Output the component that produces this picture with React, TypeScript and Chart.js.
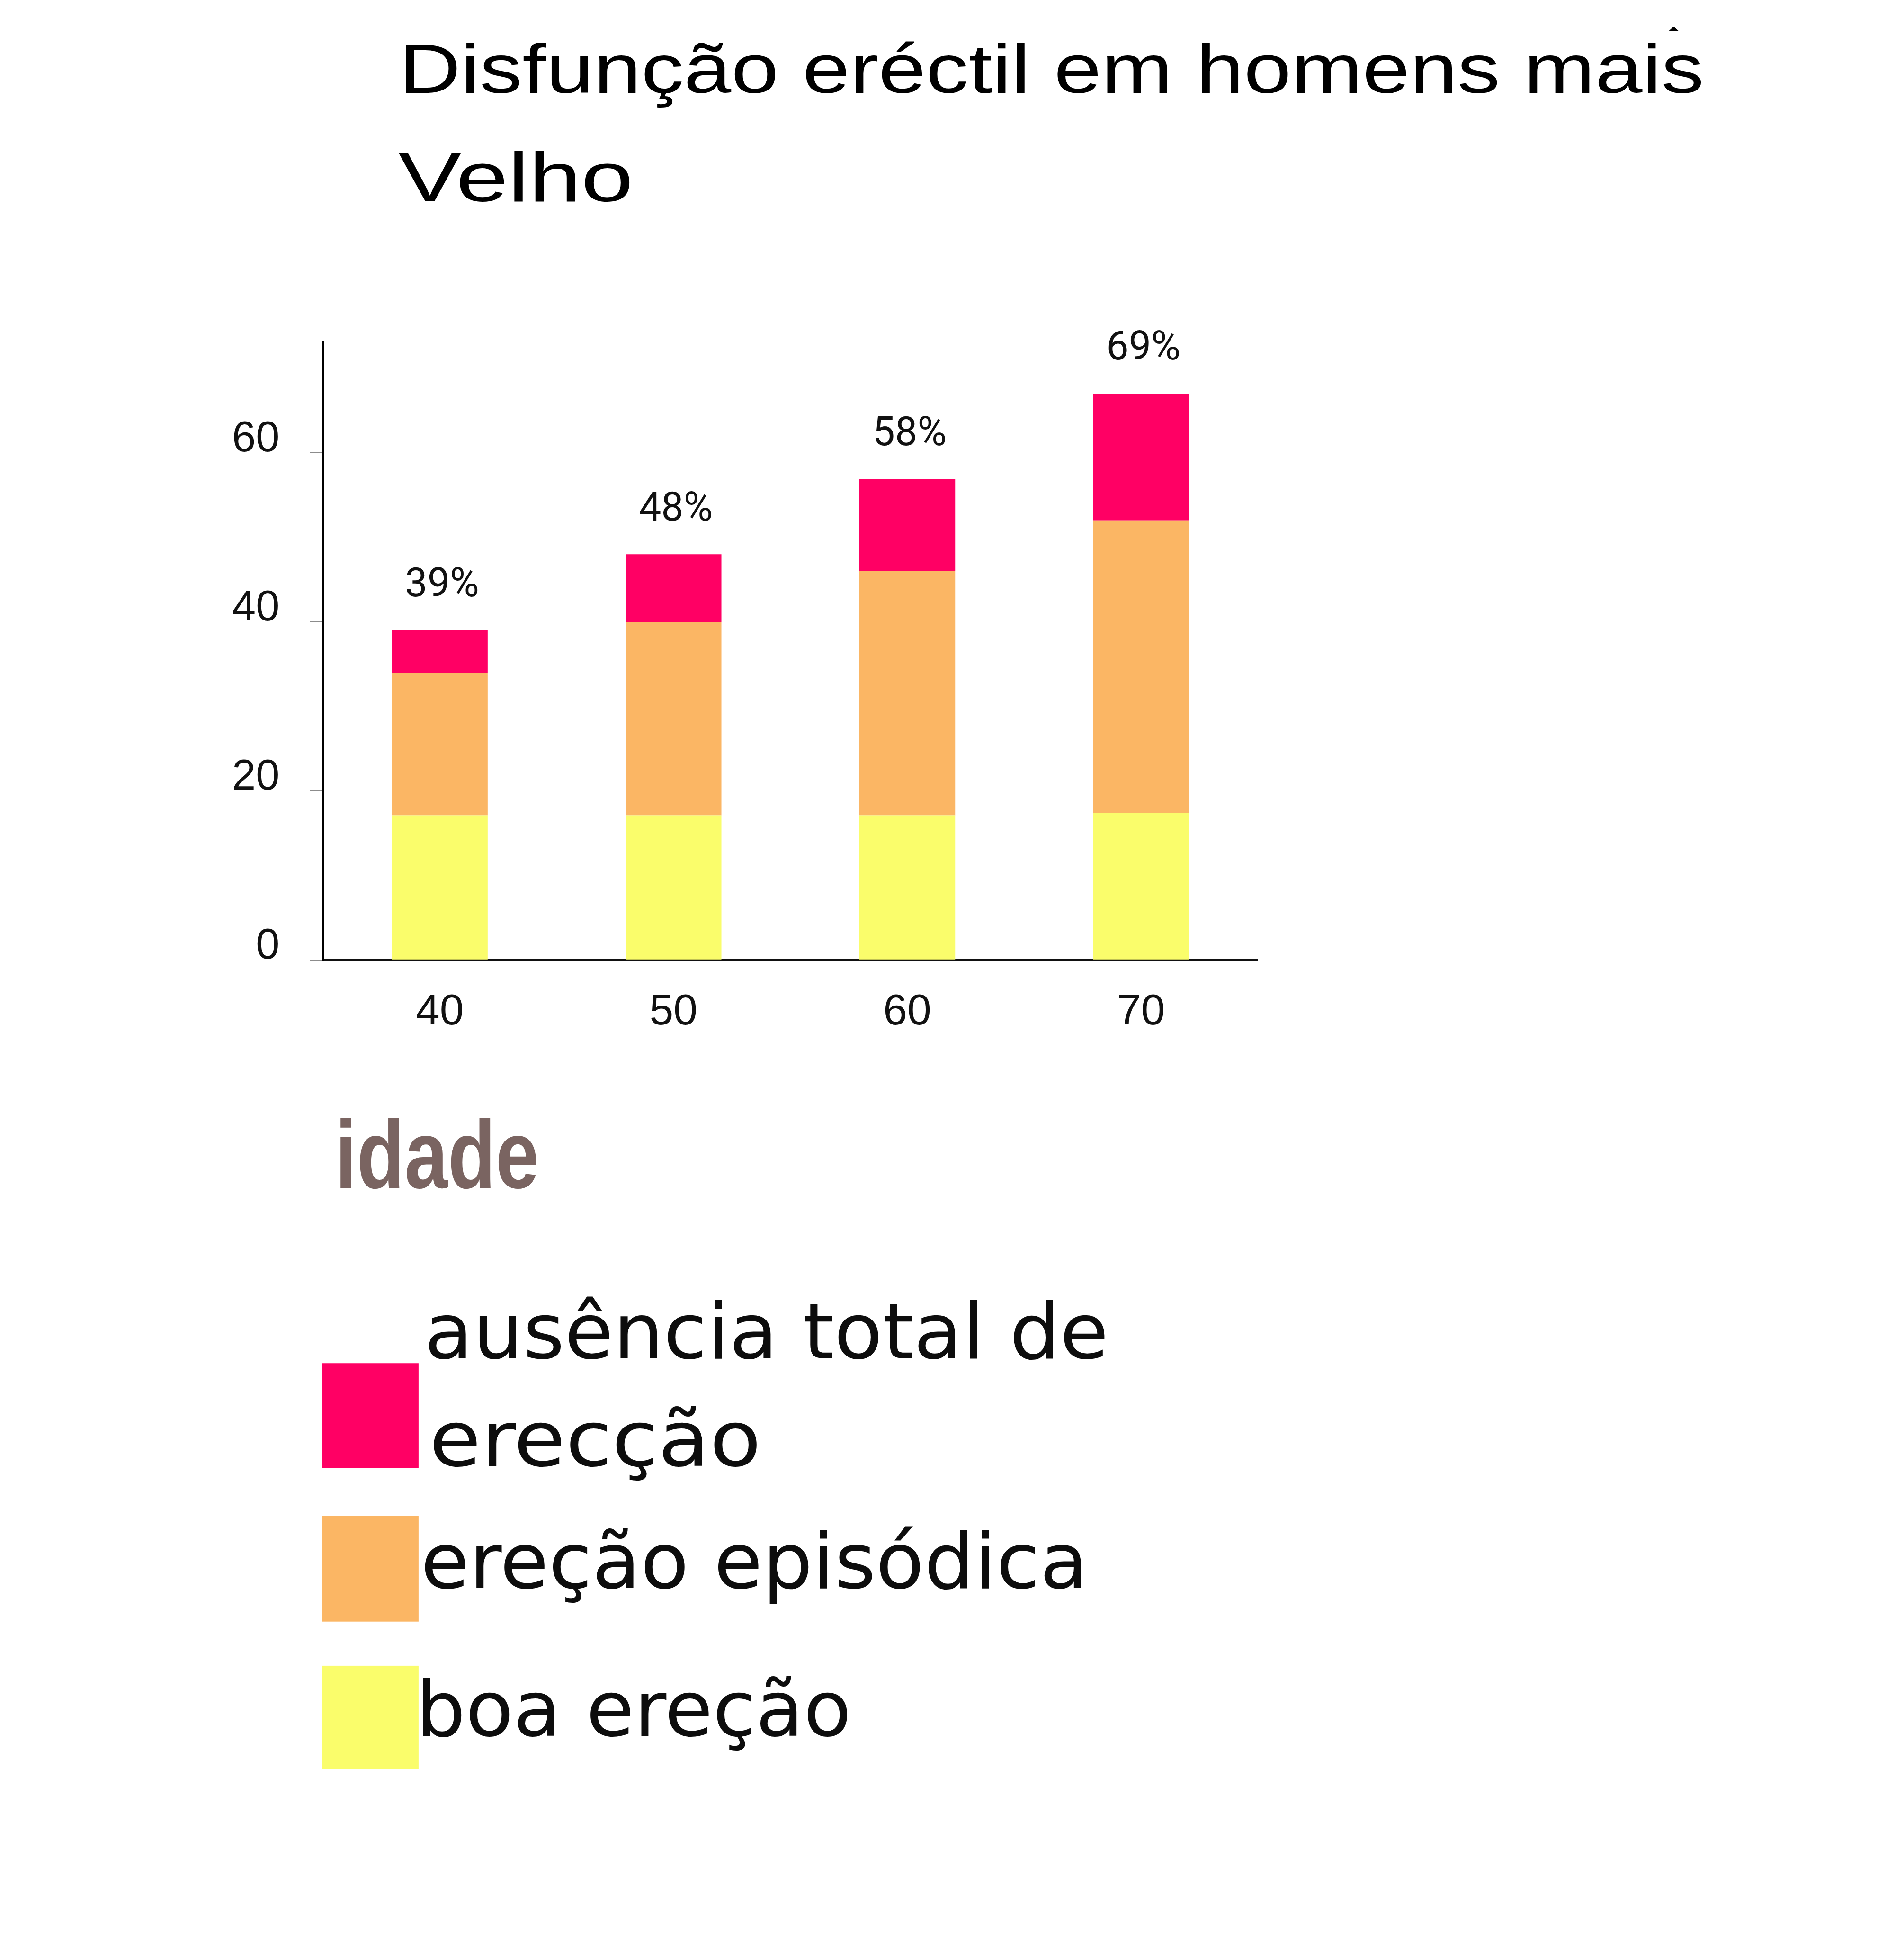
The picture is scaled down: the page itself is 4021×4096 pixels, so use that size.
import React, { useEffect, useRef } from 'react';
import { Chart, registerables } from 'chart.js';

Chart.register(...registerables);

// ---------- data ----------
const ageGroups = ['40', '50', '60', '70'];
const goodErection = [17.1, 17.1, 17.1, 17.4];
const episodicErection = [16.9, 22.9, 28.9, 34.6];
const noErection = [5.0, 8.0, 10.9, 15.0];
const percentLabels = ['39%', '48%', '58%', '69%'];
const seriesNames = ['boa ereção', 'ereção episódica', 'ausência total de erecção'];
const seriesColors = ['#FAFD6B', '#FBB664', '#FF0064'];
const legendLines = [['ausência total de', 'erecção'], ['ereção episódica'], ['boa ereção']];
const titleLines = ['Disfunção eréctil em homens mais', 'Velho'];
const xAxisTitle = 'idade';
const yMax = 73;
const yStep = 20;

// ---------- layout ----------
const W = 4021;
const H = 4096;
const S = 0.981;

function fitText(
  ctx: CanvasRenderingContext2D,
  text: string,
  font: string,
  color: string,
  left: number,
  right: number,
  baseline: number
) {
  ctx.save();
  ctx.font = font;
  ctx.fillStyle = color;
  ctx.textAlign = 'left';
  ctx.textBaseline = 'alphabetic';
  const m = ctx.measureText(text);
  const ink = m.actualBoundingBoxLeft + m.actualBoundingBoxRight;
  const sx = ink > 0 ? (right - left) / ink : 1;
  ctx.translate(left, baseline);
  ctx.scale(sx, 1);
  ctx.fillText(text, m.actualBoundingBoxLeft, 0);
  ctx.restore();
}

const decorPlugin = {
  id: 'decor',
  afterDatasetsDraw(chart: any) {
    const ctx: CanvasRenderingContext2D = chart.ctx;
    const meta = chart.getDatasetMeta(chart.data.datasets.length - 1);
    ctx.save();
    ctx.font = `${86 * S}px Roboto`;
    ctx.fillStyle = '#111';
    ctx.textAlign = 'center';
    ctx.textBaseline = 'alphabetic';
    meta.data.forEach((el: any, i: number) => {
      ctx.fillText(percentLabels[i], el.x + 5 * S, el.y - 73 * S);
    });
    ctx.restore();
  },
  afterDraw(chart: any) {
    const ctx: CanvasRenderingContext2D = chart.ctx;
    // title
    const tFont = `${149 * S}px "Liberation Sans", Arial, sans-serif`;
    fitText(ctx, titleLines[0], tFont, '#000', 873 * S, 3662 * S, 200 * S);
    fitText(ctx, titleLines[1], tFont, '#000', 858 * S, 1356 * S, 433 * S);
    // small stray caret above "mais"
    ctx.save();
    ctx.fillStyle = '#000';
    ctx.beginPath();
    ctx.moveTo(3592 * S, 67 * S);
    ctx.lineTo(3603 * S, 57 * S);
    ctx.lineTo(3614 * S, 67 * S);
    ctx.closePath();
    ctx.fill();
    ctx.restore();

    // x axis caption
    fitText(ctx, xAxisTitle, `bold ${208 * S}px "Liberation Sans", Arial, sans-serif`, '#7a6461', 733 * S, 1155 * S, 2557 * S);

    // legend
    const boxes = [
      { y: 2934, h: 226 },
      { y: 3263, h: 227 },
      { y: 3585, h: 223 },
    ];
    const textPos = [
      [ { l: 923, r: 2378, b: 2924 }, { l: 933, r: 1629, b: 3155 } ],
      [ { l: 914, r: 2327, b: 3418 } ],
      [ { l: 910, r: 1824, b: 3736 } ],
    ];
    const lFont = `${166 * S}px "DejaVu Sans", sans-serif`;
    const order = [2, 1, 0];
    order.forEach((dsIndex, row) => {
      const ds = chart.data.datasets[dsIndex];
      ctx.save();
      ctx.fillStyle = ds.backgroundColor;
      ctx.fillRect(694 * S, boxes[row].y * S, 207 * S, boxes[row].h * S);
      ctx.restore();
      legendLines[row].forEach((line, k) => {
        const p = textPos[row][k];
        fitText(ctx, line, lFont, '#0d0d0d', p.l * S, p.r * S, p.b * S);
      });
    });
  },
};

export default function App() {
  const canvasRef = useRef<HTMLCanvasElement | null>(null);

  useEffect(() => {
    const canvas = canvasRef.current;
    if (!canvas) return;
    const chartLeft = 695 * S;
    const chartRight = 2708 * S;
    const chartTop = 738 * S;
    const chartBottom = 2066 * S;
    const yAxisW = 300;
    const xAxisH = 200;

    const chart = new Chart(canvas, {
      type: 'bar',
      data: {
        labels: ageGroups,
        datasets: [
          { label: seriesNames[0], data: goodErection, backgroundColor: seriesColors[0], borderWidth: 0 },
          { label: seriesNames[1], data: episodicErection, backgroundColor: seriesColors[1], borderWidth: 0 },
          { label: seriesNames[2], data: noErection, backgroundColor: seriesColors[2], borderWidth: 0 },
        ],
      },
      options: {
        responsive: false,
        maintainAspectRatio: false,
        devicePixelRatio: 1,
        animation: false,
        datasets: { bar: { barPercentage: 0.41, categoryPercentage: 1.0 } },
        layout: {
          padding: {
            left: chartLeft - yAxisW,
            right: W - chartRight,
            top: chartTop,
            bottom: H - chartBottom - xAxisH,
          },
        },
        plugins: {
          legend: { display: false },
          title: { display: false },
          tooltip: { enabled: false },
        },
        scales: {
          x: {
            stacked: true,
            afterFit: (s: any) => { s.height = xAxisH; },
            grid: { display: false, drawTicks: false, tickLength: 0 },
            border: { display: true, color: '#111', width: 4 },
            ticks: {
              font: { family: '"Liberation Sans", Arial, sans-serif', size: 93 * S },
              color: '#111',
              padding: 56,
              maxRotation: 0,
              autoSkip: false,
            },
          },
          y: {
            stacked: true,
            min: 0,
            max: yMax,
            afterFit: (s: any) => { s.width = yAxisW; },
            grid: { drawOnChartArea: false, drawTicks: true, tickLength: 28 * S, color: '#8c8c8c', lineWidth: 2 },
            border: { display: true, color: '#000', width: 6 * S },
            ticks: {
              stepSize: yStep,
              includeBounds: false,
              font: { family: '"Liberation Sans", Arial, sans-serif', size: 92 * S },
              color: '#111',
              padding: 64,
              labelOffset: -28 * S,
            },
          },
        },
      },
      plugins: [decorPlugin],
    } as any);

    return () => chart.destroy();
  }, []);

  return (
    <div style={{ position: 'absolute', left: 0, top: 0, width: W, height: H, background: '#fff' }}>
      <canvas ref={canvasRef} width={W} height={H} style={{ display: 'block', width: W, height: H }} />
    </div>
  );
}
